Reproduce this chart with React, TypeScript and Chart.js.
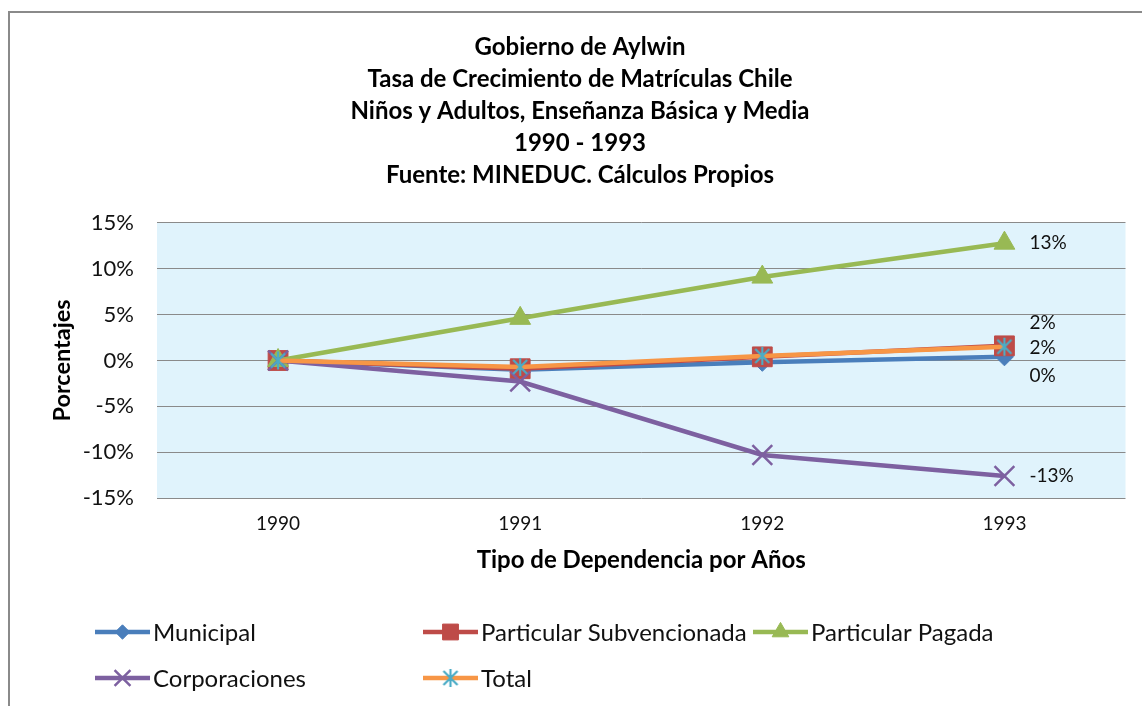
import React, { useEffect, useRef } from 'react';
import { Chart, registerables } from 'chart.js';
import { drawPoint } from 'chart.js/helpers';

Chart.register(...registerables);

// ---- data ----
const years = ['1990', '1991', '1992', '1993'];
const municipal = [0, -1.0, -0.2, 0.4];
const subvencionada = [0, -0.9, 0.4, 1.6];
const pagada = [0, 4.6, 9.1, 12.8];
const corporaciones = [0, -2.3, -10.3, -12.6];
const total = [0, -0.7, 0.5, 1.5];
const seriesNames = ['Municipal', 'Particular Subvencionada', 'Particular Pagada', 'Corporaciones', 'Total'];
const yTicks = [-15, -10, -5, 0, 5, 10, 15];
const titleLines = [
  'Gobierno de Aylwin',
  'Tasa de Crecimiento de Matrículas Chile',
  'Niños y Adultos, Enseñanza Básica y Media',
  '1990 - 1993',
  'Fuente: MINEDUC. Cálculos Propios',
];
const xTitle = 'Tipo de Dependencia por Años';
const yTitle = 'Porcentajes';

// ---- style / layout ----
const FONT = 'Lato, "Open Sans", sans-serif';
const colors = ['#4A7EBB', '#BE4B48', '#98B954', '#7D60A0', '#F79646'];
const plotBg = '#E0F3FC';
const gridColor = '#8A8A8A';
const legendCols = [95, 423, 753];
const legendRows = [632, 678];
const legendSlots = [[0, 0], [1, 0], [2, 0], [0, 1], [1, 1]];
const labelOffsets = [19, -23, 0, 0, 1];

function makeAsterisk(size: number, color: string, lw: number) {
  const c = document.createElement('canvas');
  c.width = size;
  c.height = size;
  const g = c.getContext('2d')!;
  const m = size / 2;
  const r = size / 2 - 1;
  g.strokeStyle = color;
  g.lineWidth = lw;
  g.lineCap = 'butt';
  g.beginPath();
  g.moveTo(m, m - r);
  g.lineTo(m, m + r);
  const d = r * 0.78;
  g.moveTo(m - d, m - d);
  g.lineTo(m + d, m + d);
  g.moveTo(m + d, m - d);
  g.lineTo(m - d, m + d);
  g.stroke();
  return c;
}

const bgPlugin = {
  id: 'plotBg',
  beforeDraw(chart: any) {
    const { ctx, chartArea } = chart;
    ctx.save();
    ctx.fillStyle = plotBg;
    ctx.fillRect(chartArea.left, chartArea.top, chartArea.right - chartArea.left, chartArea.bottom - chartArea.top);
    ctx.restore();
  },
};

const labelPlugin = {
  id: 'lastLabels',
  afterDatasetsDraw(chart: any) {
    const { ctx } = chart;
    ctx.save();
    ctx.font = `19px ${FONT}`;
    ctx.fillStyle = '#111';
    ctx.textAlign = 'left';
    ctx.textBaseline = 'middle';
    chart.data.datasets.forEach((ds: any, i: number) => {
      const meta = chart.getDatasetMeta(i);
      const n = ds.data.length - 1;
      const el = meta.data[n];
      const v = Math.round(ds.data[n]);
      ctx.fillText(`${v === 0 ? 0 : v}%`, el.x + 25, el.y + labelOffsets[i]);
    });
    ctx.restore();
  },
};

const legendPlugin = {
  id: 'customLegend',
  afterDraw(chart: any) {
    const { ctx } = chart;
    ctx.save();
    chart.data.datasets.forEach((ds: any, i: number) => {
      const [c, r] = legendSlots[i];
      const x = legendCols[c];
      const y = legendRows[r];
      ctx.strokeStyle = ds.borderColor;
      ctx.lineWidth = 4.5;
      ctx.beginPath();
      ctx.moveTo(x, y);
      ctx.lineTo(x + 55, y);
      ctx.stroke();
      ctx.fillStyle = ds.pointBackgroundColor;
      ctx.strokeStyle = ds.pointBorderColor;
      ctx.lineWidth = ds.pointBorderWidth;
      drawPoint(ctx, {
        pointStyle: ds.pointStyle,
        radius: typeof ds.pointStyle === 'string' ? ds.pointRadius * 0.8 : ds.pointRadius,
        rotation: 0,
        borderWidth: ds.pointBorderWidth,
      } as any, x + 27.5, y);
      ctx.fillStyle = '#111';
      ctx.font = `24px ${FONT}`;
      ctx.textAlign = 'left';
      ctx.textBaseline = 'middle';
      ctx.fillText(seriesNames[i], x + 58, y + 1);
    });
    ctx.restore();
  },
};

export default function App() {
  const ref = useRef<HTMLCanvasElement>(null);
  useEffect(() => {
    if (!ref.current) return;
    const star = makeAsterisk(20, '#4BACC6', 2.2);
    const series = [municipal, subvencionada, pagada, corporaciones, total];
    const styles: any[] = ['rectRot', 'rect', 'triangle', 'crossRot', star];
    const radii = [9, 14, 12, 14, 10];
    const fills = [colors[0], colors[1], colors[2], colors[3], '#4BACC6'];
    const borderW = [1, 1, 1, 2.5, 1];
    const chart = new Chart(ref.current, {
      type: 'line',
      data: {
        labels: years,
        datasets: series.map((d, i) => ({
          label: seriesNames[i],
          data: d,
          borderColor: colors[i],
          backgroundColor: colors[i],
          borderWidth: 4.5,
          pointStyle: styles[i],
          pointRadius: radii[i],
          pointBackgroundColor: fills[i],
          pointBorderColor: fills[i],
          pointBorderWidth: borderW[i],
          tension: 0,
          fill: false,
          order: 4 - i,
        })),
      },
      options: {
        responsive: false,
        animation: false,
        devicePixelRatio: 1,
        events: [],
        layout: { padding: { left: 32, right: 14, top: 31, bottom: 128 } },
        plugins: {
          legend: { display: false },
          tooltip: { enabled: false },
          title: {
            display: true,
            text: titleLines,
            color: '#000',
            font: { family: FONT, size: 24, weight: 'bold', lineHeight: 1.3333 },
            padding: { top: 0, bottom: 32 },
          },
        },
        scales: {
          x: {
            offset: true,
            grid: { display: false, drawTicks: false },
            border: { display: false },
            ticks: { color: '#111', font: { family: FONT, size: 19 }, padding: 14 },
            title: {
              display: true,
              text: xTitle,
              color: '#000',
              font: { family: FONT, size: 24, weight: 'bold' },
              padding: { top: 0, bottom: 3 },
            },
            afterFit: (s: any) => { s.height = 80; },
          },
          y: {
            min: -15,
            max: 15,
            grid: { color: gridColor, lineWidth: 1, drawTicks: false },
            border: { display: false },
            afterBuildTicks: (s: any) => { s.ticks = yTicks.map((v) => ({ value: v })); },
            ticks: {
              color: '#111',
              font: { family: FONT, size: 22 },
              padding: 23,
              callback: (v: any) => `${v}%`,
            },
            title: {
              display: true,
              text: yTitle,
              color: '#000',
              font: { family: FONT, size: 23.5, weight: 'bold' },
              padding: { top: 16, bottom: 0 },
            },
            afterFit: (s: any) => { s.width = 125; },
          },
        },
      },
      plugins: [bgPlugin, labelPlugin, legendPlugin],
    });
    return () => chart.destroy();
  }, []);

  return (
    <div style={{ position: 'fixed', left: 0, top: 0, width: 1142, height: 706, overflow: 'hidden', background: '#fff' }}>
      <div style={{ position: 'absolute', left: 8, top: 11, width: 1134, height: 695, borderLeft: '2px solid #8a8a8a', borderTop: '2px solid #8a8a8a' }} />
      <canvas ref={ref} width={1142} height={706} style={{ position: 'absolute', left: 0, top: 0 }} />
    </div>
  );
}
